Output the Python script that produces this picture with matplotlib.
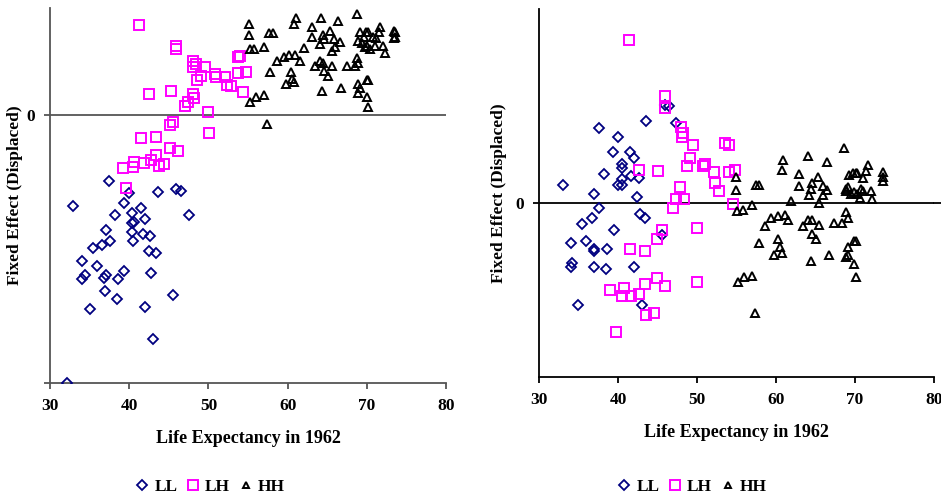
import matplotlib
matplotlib.use("Agg")
import matplotlib.pyplot as plt
from matplotlib.lines import Line2D

plt.rcParams['font.family'] = ['Liberation Serif', 'DejaVu Serif']
plt.rcParams['font.weight'] = 'bold'

# ---------------- Left panel data ----------------
left_ll_x = [37.5, 40.0, 43.6, 45.9, 46.5, 32.9, 39.4, 41.5, 47.6, 38.2, 40.4, 42.0,
             40.4, 40.6, 37.1, 40.3, 41.7, 42.6, 40.5, 37.6, 36.6, 35.4, 42.5, 43.4,
             34.0, 35.9, 34.4, 34.0, 37.1, 36.8, 39.4, 38.6, 42.8, 36.9, 38.4, 35.0,
             42.0, 45.5, 43.0, 32.1]
left_ll_y = [-0.61, -0.73, -0.72, -0.69, -0.71, -0.85, -0.82, -0.87, -0.93, -0.93, -0.91, -0.97,
             -1.01, -1.00, -1.07, -1.09, -1.11, -1.13, -1.17, -1.17, -1.21, -1.24, -1.27, -1.29,
             -1.36, -1.41, -1.49, -1.53, -1.49, -1.52, -1.45, -1.53, -1.47, -1.64, -1.72, -1.81,
             -1.79, -1.68, -2.09, -2.50]

left_lh_x = [41.3, 45.9, 45.9, 48.0, 48.4, 48.0, 49.6, 49.1, 48.6, 50.8, 50.9, 52.1,
             52.3, 52.9, 53.8, 54.0, 54.7, 53.8, 54.4, 42.5, 45.3, 48.0, 48.2, 47.4,
             47.0, 49.9, 45.5, 45.1, 50.1, 41.5, 43.4, 45.1, 46.1, 43.4, 40.6, 41.9,
             42.8, 39.2, 40.5, 43.8, 44.4, 39.6]
left_lh_y = [0.84, 0.65, 0.62, 0.51, 0.48, 0.45, 0.45, 0.37, 0.33, 0.38, 0.36, 0.36,
             0.28, 0.27, 0.54, 0.55, 0.40, 0.39, 0.22, 0.20, 0.23, 0.20, 0.16, 0.12,
             0.09, 0.03, -0.06, -0.09, -0.17, -0.21, -0.20, -0.31, -0.33, -0.37, -0.44, -0.45,
             -0.42, -0.49, -0.48, -0.47, -0.46, -0.68]

left_hh_x = [55.1, 55.1, 57.7, 58.1, 61.0, 60.8, 64.2, 66.4, 68.7, 63.1, 63.1, 64.5,
             65.4, 64.6, 65.8, 64.1, 66.6, 66.0, 65.6, 62.1, 57.0, 55.3, 55.8, 58.7,
             59.5, 60.2, 60.9, 61.6, 57.8, 60.4, 60.6, 60.8, 59.8, 63.5, 64.1, 64.5,
             65.6, 64.6, 65.1, 67.5, 68.5, 68.7, 68.9, 66.8, 64.3, 68.9, 69.1, 68.9,
             70.0, 70.2, 70.0, 70.2, 56.0, 57.0, 55.3, 57.4, 69.2, 69.9, 70.2, 69.6,
             70.8, 71.7, 71.5, 68.9, 69.4, 70.0, 70.4, 71.0, 72.1, 72.3, 69.8, 73.4,
             73.6, 73.4, 73.6, 71.2]
left_hh_y = [0.85, 0.75, 0.77, 0.77, 0.91, 0.85, 0.91, 0.88, 0.94, 0.82, 0.73, 0.75,
             0.79, 0.71, 0.71, 0.66, 0.68, 0.64, 0.60, 0.63, 0.64, 0.62, 0.62, 0.51,
             0.54, 0.56, 0.56, 0.51, 0.40, 0.40, 0.34, 0.31, 0.29, 0.46, 0.51, 0.49,
             0.46, 0.41, 0.37, 0.46, 0.46, 0.53, 0.49, 0.25, 0.23, 0.29, 0.25, 0.21,
             0.33, 0.33, 0.17, 0.08, 0.17, 0.19, 0.12, -0.08, 0.78, 0.78, 0.78, 0.73,
             0.73, 0.82, 0.78, 0.69, 0.67, 0.65, 0.62, 0.65, 0.65, 0.58, 0.64, 0.79,
             0.78, 0.72, 0.73, 0.72]

# ---------------- Right panel data ----------------
right_ll_x = [33.0, 37.6, 40.0, 43.6, 39.4, 41.5, 42.0, 46.0, 46.4, 47.4, 38.2, 40.5,
              40.5, 41.7, 42.6, 40.5, 40.0, 40.5, 37.0, 42.4, 37.6, 36.7, 35.5, 39.5,
              42.8, 43.4, 45.6, 34.0, 35.9, 36.9, 37.0, 38.6, 34.2, 34.0, 37.0, 38.5,
              42.0, 34.9, 43.1]
right_ll_y = [0.09, 0.385, 0.34, 0.42, 0.26, 0.26, 0.23, 0.505, 0.50, 0.41, 0.15, 0.20,
              0.18, 0.14, 0.13, 0.12, 0.09, 0.09, 0.045, 0.03, -0.03, -0.08, -0.11, -0.14,
              -0.06, -0.08, -0.165, -0.21, -0.20, -0.24, -0.25, -0.24, -0.31, -0.33, -0.33, -0.34,
              -0.33, -0.53, -0.53]

right_lh_x = [41.4, 46.0, 46.0, 48.0, 48.2, 48.1, 49.5, 49.1, 48.7, 42.6, 45.1, 51.0,
              50.7, 52.1, 52.3, 52.8, 47.8, 47.3, 48.4, 53.5, 54.1, 54.8, 54.0, 54.6,
              47.0, 50.0, 45.6, 44.9, 41.5, 43.4, 50.0, 44.9, 46.0, 43.4, 39.0, 40.7,
              40.5, 41.7, 42.6, 43.5, 44.5, 39.7]
right_lh_y = [0.84, 0.55, 0.49, 0.39, 0.36, 0.34, 0.30, 0.23, 0.19, 0.17, 0.165, 0.20,
              0.19, 0.16, 0.10, 0.06, 0.08, 0.02, 0.02, 0.31, 0.30, 0.17, 0.16, -0.005,
              -0.03, -0.13, -0.14, -0.19, -0.24, -0.25, -0.41, -0.39, -0.43, -0.42, -0.45, -0.44,
              -0.48, -0.48, -0.47, -0.58, -0.57, -0.67]

right_hh_x = [54.9, 54.9, 55.1, 55.8, 57.0, 57.5, 57.9, 55.2, 55.9, 57.0, 57.3, 57.9,
              58.6, 59.4, 60.2, 61.1, 61.5, 60.2, 60.5, 60.7, 59.8, 60.9, 60.7, 61.9,
              64.0, 62.9, 62.9, 63.4, 64.1, 64.5, 64.5, 65.1, 64.4, 65.5, 65.3, 64.6,
              64.4, 64.2, 65.5, 65.9, 66.5, 65.9, 66.5, 66.7, 67.4, 68.4, 68.6, 68.9,
              69.1, 68.9, 69.1, 68.9, 69.3, 69.7, 70.1, 70.3, 69.5, 69.9, 70.3, 70.6,
              71.0, 70.8, 71.0, 71.4, 71.6, 72.0, 72.2, 69.9, 70.1, 69.1, 69.1, 68.9,
              69.9, 70.1, 73.5, 73.5, 73.5]
right_hh_y = [0.135, 0.067, -0.045, -0.036, -0.01, 0.093, 0.093, -0.41, -0.385, -0.376, -0.57, -0.21,
              -0.12, -0.079, -0.07, -0.062, -0.088, -0.19, -0.23, -0.26, -0.27, 0.22, 0.17, 0.01,
              0.24, 0.15, 0.084, -0.12, -0.088, -0.088, -0.16, -0.19, -0.30, -0.113, 0.135, 0.10,
              0.07, 0.04, -0.002, 0.084, 0.067, 0.04, 0.21, -0.27, -0.105, -0.105, 0.28, -0.05,
              -0.079, 0.07, 0.08, 0.06, 0.144, 0.153, 0.153, 0.153, 0.045, 0.053, 0.045, 0.024,
              0.058, 0.07, 0.127, 0.162, 0.196, 0.058, 0.019, -0.20, -0.20, -0.23, -0.27, -0.28,
              -0.316, -0.385, 0.16, 0.135, 0.11]

x_ticks = [30, 40, 50, 60, 70, 80]
x_label = "Life Expectancy in 1962"
y_label = "Fixed Effect (Displaced)"
series_names = ["LL", "LH", "HH"]
ll_color = "#000080"
lh_color = "#FF00FF"
hh_color = "#000000"

W, H = 941, 497
fig = plt.figure(figsize=(W / 100, H / 100), dpi=100)


def fx(px):
    return px / W


def fy(py):
    return 1 - py / H


ax1 = fig.add_axes([fx(50), fy(383), fx(446) - fx(50), fy(8) - fy(383)])
ax2 = fig.add_axes([fx(539), fy(377), fx(934) - fx(539), fy(9) - fy(377)])


def draw(ax, llx, lly, lhx, lhy, hhx, hhy, ylim, yticks, ylabels, axcol, ylab_x):
    ax.set_xlim(30, 80)
    ax.set_ylim(*ylim)
    ax.axhline(0, color=axcol, lw=1.3, zorder=1)
    ax.plot(llx, lly, ls='none', marker='D', ms=5.4, mfc='none', mec=ll_color, mew=1.3, zorder=3)
    ax.plot(lhx, lhy, ls='none', marker='s', ms=7.5, mfc='none', mec=lh_color, mew=1.4, zorder=3)
    ax.plot(hhx, hhy, ls='none', marker='^', ms=5.5, mfc='none', mec=hh_color, mew=1.4, zorder=3)
    for s in ['top', 'right']:
        ax.spines[s].set_visible(False)
    for s in ['left', 'bottom']:
        ax.spines[s].set_color(axcol)
        ax.spines[s].set_linewidth(1.3)
    ax.set_xticks(x_ticks)
    ax.set_xticklabels([str(t) for t in x_ticks])
    ax.set_yticks(yticks)
    ax.set_yticklabels(ylabels)
    ax.tick_params(axis='both', direction='out', length=4, width=1.3, color=axcol,
                   labelsize=12.5, pad=7)
    for lab in ax.get_xticklabels() + ax.get_yticklabels():
        lab.set_fontweight('bold')
    ax.set_xlabel(x_label, fontsize=13, fontweight='bold', labelpad=11)
    ax.set_ylabel(y_label, fontsize=12.5, fontweight='bold')
    ax.yaxis.set_label_coords(ylab_x, 0.5)
    ax.patch.set_alpha(0)


draw(ax1, left_ll_x, left_ll_y, left_lh_x, left_lh_y, left_hh_x, left_hh_y,
     (-2.5, 1.0), [-2.5, 0], ['', '0'], '#555555', -0.069)
draw(ax2, right_ll_x, right_ll_y, right_lh_x, right_lh_y, right_hh_x, right_hh_y,
     (-0.9, 1.0), [0], ['0'], '#000000', -0.080)
# right panel's zero line runs past the plot edge
ax2.axhline(0, xmin=1.0, xmax=1.02, color='black', lw=1.3, clip_on=False)

handles = [
    Line2D([], [], ls='none', marker='D', ms=5, mfc='none', mec=ll_color, mew=1.3),
    Line2D([], [], ls='none', marker='s', ms=6.5, mfc='none', mec=lh_color, mew=1.4),
    Line2D([], [], ls='none', marker='^', ms=4.5, mfc='none', mec=hh_color, mew=1.4),
]
for cx in (210, 692):
    fig.legend(handles, series_names, loc='center', bbox_to_anchor=(fx(cx), fy(487)),
               ncol=3, frameon=False, handlelength=0.8, handletextpad=0.3,
               columnspacing=0.5, prop={'family': 'Liberation Serif', 'weight': 'bold', 'size': 12.5})

fig.savefig("out.png", dpi=100)
